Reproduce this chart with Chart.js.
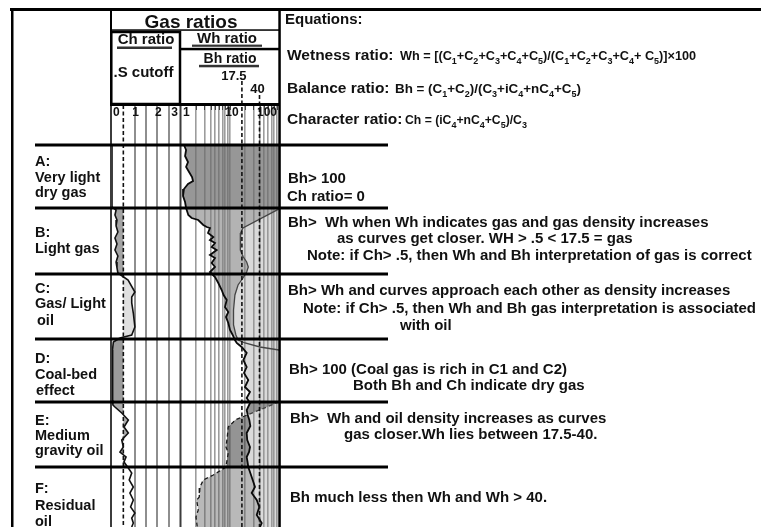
<!DOCTYPE html>
<html><head><meta charset="utf-8">
<script src="https://cdn.jsdelivr.net/npm/chart.js@4"></script>
<style>html,body{margin:0;padding:0;background:#fff;}canvas{display:block;}</style>
</head><body>
<canvas id="c" width="761" height="527"></canvas>
<script>
// ================= DATA =================
const zoneNames = ['A', 'B', 'C', 'D', 'E', 'F'];
const zoneTops = [42, 105, 171, 236, 299, 364];      // depth of each zone's upper boundary
const depthMax = 424;
const zoneLabels = [
  ['A:', 'Very light', 'dry gas'],
  ['B:', 'Light gas'],
  ['C:', 'Gas/ Light', 'oil'],
  ['D:', 'Coal-bed', 'effect'],
  ['E:', 'Medium', 'gravity oil'],
  ['F:', 'Residual', 'oil']
];
const zoneNotes = [
  ['Bh> 100', 'Ch ratio= 0'],
  ['Bh>  Wh when Wh indicates gas and gas density increases', 'as curves get closer. WH > .5 < 17.5 = gas', 'Note: if Ch> .5, then Wh and Bh interpretation of gas is correct'],
  ['Bh> Wh and curves approach each other as density increases', 'Note: if Ch> .5, then Wh and Bh gas interpretation is associated', 'with oil'],
  ['Bh> 100 (Coal gas is rich in C1 and C2)', 'Both Bh and Ch indicate dry gas'],
  ['Bh>  Wh and oil density increases as curves', 'gas closer.Wh lies between 17.5-40.'],
  ['Bh much less then Wh and Wh > 40.']
];
const equationTitle = 'Equations:';
const equationNames = ['Wetness ratio:', 'Balance ratio:', 'Character ratio:'];
const equationFormulas = [
  'Wh = [(C_1+C_2+C_3+C_4+C_5)/(C_1+C_2+C_3+C_4+ C_5)]\u00d7100',
  'Bh = (C_1+C_2)/(C_3+iC_4+nC_4+C_5)',
  'Ch = (iC_4+nC_4+C_5)/C_3'
];
const headerTitle = 'Gas ratios';
const chTitle = 'Ch ratio', chCutoffLabel = '.S cutoff';
const whTitle = 'Wh ratio', bhTitle = 'Bh ratio';
const chTickValues = [0, 1, 2, 3];
const chTickLabels = ['0', '1', '2', '3'];
const chGrid = [1, 1.5, 2, 2.5];
const chCutoff = 0.5;
const whTickValues = [1, 10, 100];
const whTickLabels = ['1', '10', '100'];
const whGrid = [2, 3, 4, 5, 6, 7, 8, 9, 10, 20, 30, 40, 50, 60, 70, 80, 90];
const whCutoffs = [17.5, 40];
const whCutoffLabels = ['17.5', '40'];

const chDepth = [42, 104, 107, 112, 117, 123, 129, 135, 141, 147, 153, 159, 165, 170,
  177, 189, 194, 200, 210, 224, 232, 235, 239,
  247, 257, 267, 277, 287, 297,
  302, 304, 310, 317, 324, 330, 337, 344, 349, 354, 359, 365,
  370, 377, 384, 390, 397, 404, 410, 415, 420, 424];
const chValue = [0, 0, 0.18, 0.13, 0.22, 0.18, 0.26, 0.13, 0.22, 0.13, 0.26, 0.18, 0.22, 0.26,
  0.71, 1.01, 0.87, 0.87, 0.94, 1.01, 0.87, 0.35, 0.06,
  0.02, 0.03, 0.02, 0.04, 0.03, 0.02,
  0.04, 0.13, 0.43, 0.72, 0.53, 0.72, 0.43, 0.5, 0.35, 0.62, 0.53, 0.72,
  0.87, 0.76, 0.94, 0.79, 0.94, 0.82, 1.01, 0.87, 0.94, 0.87];

const whDepth = [42, 47, 53, 59, 64, 69, 74, 78, 81, 86, 93, 99, 105,
  112, 115, 117, 122, 124, 125, 130, 134, 137, 140, 144, 147, 152, 155, 160, 164, 169,
  174, 180, 187, 192, 197, 204, 209, 214, 220, 227, 232, 237,
  240, 244, 250, 257, 264, 270, 277, 284, 289, 295, 300,
  307, 312, 317, 323, 330, 337, 344, 349, 354, 359, 364,
  374, 384, 390, 397, 404, 412, 420, 424];
const whValue = [1.15, 1.27, 1.21, 1.39, 1.27, 1.46, 1.68, 1.76, 1.39, 1.15, 1.1, 1.21, 1.27,
  1.41, 1.65, 2.25, 2.85, 3.35, 3.9, 3.56, 4.56, 3.9, 4.94, 4.23, 5.35, 3.9, 4.94, 4.23, 4.94, 3.9,
  4.94, 5.77, 6.77, 7.4, 8.57, 7.9, 9.23, 8.28, 9.23, 10, 11.35, 12.6,
  13.7, 17.3, 21.9, 18.7, 21.9, 19.3, 23.6, 20.2, 25.6, 21.9, 25.6,
  21.9, 23, 24.8, 26, 21.9, 22.5, 25.6, 24.5, 21.9, 22.8, 23.6,
  27.7, 32.4, 27.7, 35.1, 39.6, 35.1, 44.4, 40.9];

const bhDepth = [42, 104,
  106, 125, 130, 137, 147, 154, 159, 164, 169,
  175, 182, 192, 207, 222, 232, 237,
  240, 244, 247, 252, 297,
  299, 317, 319, 324, 334, 344, 350, 359, 364,
  372, 377, 384, 394, 397, 407, 414, 424];
const bhValue = [300, 300,
  100, 18.4, 16.5, 16.0, 16.5, 18.7, 21.9, 23.6, 21.9,
  18.4, 14.6, 12.6, 11.8, 11.8, 13.2, 14.6,
  20.2, 40.9, 100, 300, 300,
  100, 12.6, 11.7, 9.2, 8.8, 8.28, 9.2, 8.57, 8.28,
  4.56, 2.85, 2.44, 2.36, 2.09, 2.25, 2.02, 2.15];

// ================= STYLES / LAYOUT =================
const FONT = '"Liberation Sans", Arial, Helvetica, sans-serif';
const chFillByZone = ['rgba(0,0,0,0)', 'rgba(90,90,90,0.55)', 'rgba(150,150,150,0.3)', 'rgba(90,90,90,0.6)', 'rgba(90,90,90,0.5)', 'rgba(0,0,0,0)'];
const whFillByZone = ['rgba(150,150,150,0.35)', 'rgba(150,150,150,0.35)', 'rgba(150,150,150,0.35)', 'rgba(150,150,150,0.35)', 'rgba(150,150,150,0.35)', 'rgba(150,150,150,0.35)'];
const bhFillByZone = ['rgba(70,70,70,0.55)', 'rgba(100,100,100,0.38)', 'rgba(100,100,100,0.38)', 'rgba(0,0,0,0)', 'rgba(60,60,60,0.55)', 'rgba(100,100,100,0.45)'];
const labelLayout = [
  [[35, 166], [35, 182], [35, 197]],
  [[35, 237], [35, 253]],
  [[35, 293], [35, 308], [37, 325]],
  [[35, 363], [35, 379], [36, 395]],
  [[35, 425], [35, 440], [35, 455]],
  [[35, 493], [35, 510], [35, 526]]
];
const noteLayout = [
  [[288, 183], [287, 200.5]],
  [[288, 227], [337, 243], [307, 260]],
  [[288, 295], [303, 313], [400, 330]],
  [[289, 374], [353, 390]],
  [[290, 423], [344, 439]],
  [[290, 502]]
];
const eqNameLayout = [[287, 60], [287, 93], [287, 124]];
const eqFormulaX = [400, 395, 405];
const eqFormulaSize = [12.7, 13.4, 12.2];

function zoneIndex(d) {
  let z = 0;
  for (let i = 0; i < zoneTops.length; i++) if (d >= zoneTops[i] - 0.01) z = i;
  return z;
}
function segZone(depths, c) {
  return zoneIndex((depths[c.p0DataIndex] + depths[c.p1DataIndex]) / 2);
}
function pts(depths, values) { return depths.map((d, i) => ({x: values[i], y: d})); }

function txt(ctx, s, x, y, size, align) {
  ctx.font = 'bold ' + size + 'px ' + FONT;
  ctx.textAlign = align || 'left';
  ctx.textBaseline = 'alphabetic';
  ctx.fillText(s, x, y);
}
function formula(ctx, s, x, y, size, sub) {
  ctx.textAlign = 'left'; ctx.textBaseline = 'alphabetic';
  let cx = x;
  for (let i = 0; i < s.length; i++) {
    const ch = s[i];
    if (ch === '_' && i + 1 < s.length) {
      ctx.font = 'bold ' + sub + 'px ' + FONT;
      ctx.fillText(s[i + 1], cx, y + 4);
      cx += ctx.measureText(s[i + 1]).width;
      i++;
    } else {
      ctx.font = 'bold ' + size + 'px ' + FONT;
      ctx.fillText(ch, cx, y);
      cx += ctx.measureText(ch).width;
    }
  }
}

const deco = {
  id: 'deco',
  beforeDraw(chart) {
    const c = chart.ctx; c.save(); c.fillStyle = '#fff'; c.fillRect(0, 0, chart.width, chart.height); c.restore();
  },
  afterDatasetsDraw(chart) {
    const c = chart.ctx, xc = chart.scales.xc, xw = chart.scales.xw, ys = chart.scales.y;
    const top = chart.chartArea.top, bot = chart.chartArea.bottom;
    c.save();
    // cutoff dashed lines
    c.strokeStyle = '#111'; c.lineWidth = 1.6; c.setLineDash([4, 2.5]);
    c.beginPath();
    const px5 = xc.getPixelForValue(chCutoff);
    c.moveTo(px5, top + 2); c.lineTo(px5, bot);
    const p175 = xw.getPixelForValue(whCutoffs[0]);
    c.moveTo(p175, 81); c.lineTo(p175, bot);
    const p40 = xw.getPixelForValue(whCutoffs[1]);
    c.moveTo(p40, 95); c.lineTo(p40, bot);
    c.stroke();
    c.setLineDash([]);
    // track borders
    c.fillStyle = '#3c3c3c';
    c.fillRect(xc.getPixelForValue(0) - 2, top, 2, bot - top);
    c.fillRect((xc.getPixelForValue(3) + xw.getPixelForValue(1)) / 2 - 1, top, 2, bot - top);
    // minor ticks at top of log track
    c.strokeStyle = '#444'; c.lineWidth = 1;
    c.beginPath();
    whGrid.forEach(v => { const p = Math.round(xw.getPixelForValue(v)) + 0.5; c.moveTo(p, top + 3); c.lineTo(p, top + 7); });
    c.stroke();
    // zone boundary lines
    c.fillStyle = '#000';
    zoneTops.forEach(d => { const y = ys.getPixelForValue(d); c.fillRect(35, y - 1.5, 353, 3); });
    c.restore();
  },
  afterDraw(chart) {
    const c = chart.ctx, xc = chart.scales.xc, xw = chart.scales.xw;
    const bot = chart.chartArea.bottom;
    c.save();
    c.fillStyle = '#000';
    // outer frame
    c.fillRect(10, 8, 751, 3);
    c.fillRect(11, 8, 2.5, bot - 8);
    // full-height right border of tracks / text column
    c.fillRect(278.3, 9, 2.5, bot - 9);
    c.fillRect(110, 9, 2, 95);
    // header boxes
    c.fillRect(110, 29.3, 170, 1.5);
    c.lineWidth = 2.5; c.strokeStyle = '#000';
    c.strokeRect(111.3, 32, 68.7, 72);
    c.fillRect(180, 47.8, 100, 2.5);
    c.fillRect(110, 103, 170, 3);
    // header texts
    c.fillStyle = '#111';
    txt(c, headerTitle, 191, 28, 19, 'center');
    txt(c, chTitle, 146, 43.5, 15, 'center');
    txt(c, chCutoffLabel, 143.5, 77, 15, 'center');
    txt(c, whTitle, 227, 43, 15, 'center');
    txt(c, bhTitle, 230, 63, 14, 'center');
    c.fillStyle = '#333';
    c.fillRect(117, 46.5, 55, 2.5);
    c.fillRect(192, 44.6, 70, 2.2);
    c.fillRect(199, 64.8, 60, 2.5);
    c.fillStyle = '#111';
    txt(c, whCutoffLabels[0], xw.getPixelForValue(whCutoffs[0]) - 8, 80, 13, 'center');
    txt(c, whCutoffLabels[1], xw.getPixelForValue(whCutoffs[1]) - 2, 93, 13, 'center');
    // tick labels
    const tickY = 116;
    const ts = 12;
    chTickValues.forEach((v, i) => {
      const p = xc.getPixelForValue(v);
      const last = chTickValues.length - 1;
      if (i === 0) txt(c, chTickLabels[i], p + 1, tickY, ts, 'left');
      else if (i === last) txt(c, chTickLabels[i], p - 2, tickY, ts, 'right');
      else txt(c, chTickLabels[i], p + 1, tickY, ts, 'center');
    });
    whTickValues.forEach((v, i) => {
      const p = xw.getPixelForValue(v);
      const last = whTickValues.length - 1;
      if (i === 0) txt(c, whTickLabels[i], p + 2, tickY, ts, 'left');
      else if (i === last) txt(c, whTickLabels[i], p - 2, tickY, ts, 'right');
      else txt(c, whTickLabels[i], p + 2, tickY, ts, 'center');
    });
    // zone labels (left)
    zoneLabels.forEach((lines, z) => lines.forEach((s, k) => {
      const [x, y] = labelLayout[z][k];
      txt(c, s, x, y, 14.5, 'left');
    }));
    // notes (right)
    zoneNotes.forEach((lines, z) => lines.forEach((s, k) => {
      const [x, y] = noteLayout[z][k];
      txt(c, s, x, y, 15, 'left');
    }));
    // equations
    txt(c, equationTitle, 285, 24, 15, 'left');
    equationNames.forEach((s, i) => {
      const [x, y] = eqNameLayout[i];
      txt(c, s, x, y, 15.5, 'left');
      formula(c, equationFormulas[i], eqFormulaX[i], y, eqFormulaSize[i], 9);
    });
    c.restore();
  }
};

new Chart(document.getElementById('c'), {
  type: 'line',
  data: {
    datasets: [
      {
        label: 'Ch ratio', data: pts(chDepth, chValue), xAxisID: 'xc', yAxisID: 'y',
        borderColor: '#111', borderWidth: 1.6, pointRadius: 0, tension: 0,
        fill: {value: chCutoff}, backgroundColor: 'rgba(0,0,0,0)',
        segment: { backgroundColor: c => chFillByZone[segZone(chDepth, c)] }
      },
      {
        label: 'Wh ratio', data: pts(whDepth, whValue), xAxisID: 'xw', yAxisID: 'y',
        borderColor: '#0a0a0a', borderWidth: 1.8, pointRadius: 0, tension: 0,
        fill: {value: 10000}, backgroundColor: 'rgba(0,0,0,0)',
        segment: { backgroundColor: c => whFillByZone[segZone(whDepth, c)] }
      },
      {
        label: 'Bh ratio', data: pts(bhDepth, bhValue), xAxisID: 'xw', yAxisID: 'y',
        borderColor: '#1a1a1a', borderWidth: 1.3, pointRadius: 0, tension: 0,
        fill: 1, backgroundColor: 'rgba(0,0,0,0)',
        segment: {
          backgroundColor: c => bhFillByZone[segZone(bhDepth, c)],
          borderDash: c => segZone(bhDepth, c) >= 4 ? [4, 3] : undefined
        }
      }
    ]
  },
  options: {
    responsive: false, animation: false, devicePixelRatio: 1,
    indexAxis: 'y',
    layout: { padding: { left: 112, right: 482, top: 103, bottom: 0 } },
    plugins: { legend: { display: false }, tooltip: { enabled: false } },
    events: [],
    scales: {
      y: { type: 'linear', min: 0, max: depthMax, reverse: true, display: false },
      xc: {
        type: 'linear', position: 'top', min: 0, max: 167 / (68 / 3), bounds: 'data',
        afterBuildTicks: s => { s.ticks = chGrid.map(v => ({value: v})); },
        afterFit: s => { s.height = 0; },
        ticks: { display: false }, border: { display: false },
        grid: { drawTicks: false, color: '#8e8e8e', lineWidth: 2 }
      },
      xw: {
        type: 'logarithmic', position: 'top', min: Math.pow(10, -69 / 49), max: 100, bounds: 'data',
        afterBuildTicks: s => { s.ticks = whGrid.map(v => ({value: v})); },
        afterFit: s => { s.height = 0; },
        ticks: { display: false }, border: { display: false },
        grid: { drawTicks: false, color: '#9c9c9c', lineWidth: 1.6 }
      }
    }
  },
  plugins: [deco]
});
</script>
</body></html>
